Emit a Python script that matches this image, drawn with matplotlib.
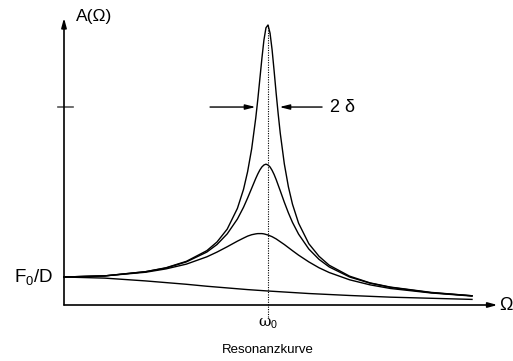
import matplotlib
matplotlib.use("Agg")
import matplotlib.pyplot as plt

plt.rcParams['font.family'] = ['Liberation Sans', 'DejaVu Sans']
plt.rcParams['mathtext.fontset'] = 'custom'
plt.rcParams['mathtext.rm'] = 'Liberation Sans'
plt.rcParams['mathtext.it'] = 'Liberation Sans'

# frequency ratio Omega/omega0
x = [0, 0.2, 0.4, 0.5, 0.6, 0.7, 0.75, 0.8, 0.85, 0.88, 0.9, 0.92, 0.94, 0.95,
     0.96, 0.97, 0.98, 0.99, 1.0, 1.01, 1.02, 1.03, 1.04, 1.05, 1.06, 1.08,
     1.1, 1.12, 1.15, 1.2, 1.25, 1.3, 1.4, 1.5, 1.6, 1.8, 2.0]

# amplitude in units of F0/D, one list per curve
a_high = [1.0, 1.04, 1.19, 1.33, 1.56, 1.94, 2.25, 2.71, 3.45, 4.13, 4.76, 5.58,
          6.68, 7.34, 8.07, 8.80, 9.46, 9.90, 10.0, 9.71, 9.12, 8.36, 7.56, 6.82,
          6.14, 5.04, 4.22, 3.60, 2.92, 2.19, 1.74, 1.42, 1.03, 0.79, 0.64, 0.45, 0.33]
a_mid = [1.0, 1.04, 1.19, 1.32, 1.54, 1.89, 2.16, 2.54, 3.07, 3.49, 3.82, 4.17,
         4.52, 4.68, 4.82, 4.93, 5.00, 5.03, 5.0, 4.93, 4.81, 4.66, 4.48, 4.28,
         4.08, 3.67, 3.29, 2.95, 2.53, 2.00, 1.63, 1.36, 1.0, 0.78, 0.63, 0.44, 0.33]
a_low = [1.0, 1.04, 1.17, 1.29, 1.46, 1.72, 1.89, 2.08, 2.28, 2.39, 2.46, 2.51,
         2.54, 2.55, 2.55, 2.55, 2.54, 2.52, 2.5, 2.47, 2.44, 2.40, 2.36, 2.31,
         2.26, 2.16, 2.05, 1.94, 1.78, 1.54, 1.33, 1.16, 0.90, 0.72, 0.59, 0.43, 0.32]
x_flat = [0, 0.2, 0.4, 0.5, 0.6, 0.7, 0.8, 0.9, 1.0, 1.2, 1.4, 1.6, 1.8, 2.0]
a_flat = [1.0, 0.96, 0.86, 0.80, 0.74, 0.67, 0.61, 0.55, 0.50, 0.41, 0.34, 0.28, 0.24, 0.20]

half_level = 7.07
width_left, width_right = 0.954, 1.046

fig = plt.figure(figsize=(5.13, 3.61), dpi=100)
ax = fig.add_axes([0, 0, 1, 1])
ax.set_xlim(-64 / 204, (513 - 64) / 204)
ax.set_ylim(-56 / 28, 305 / 28)
ax.axis('off')

for a in [a_high, a_mid, a_low]:
    ax.plot(x, a, color='black', lw=1.0)
ax.plot(x_flat, a_flat, color='black', lw=1.0)

# axes with arrows
arr = dict(arrowstyle='-|>,head_length=0.55,head_width=0.15', color='black', lw=1.2,
           shrinkA=0, shrinkB=0)
ax.annotate('', xy=(0, 10.25), xytext=(0, 0), arrowprops=arr)
ax.annotate('', xy=(2.125, 0), xytext=(0, 0), arrowprops=arr)

# resonance line and half-power tick
ax.plot([1.0, 1.0], [10.0, -0.45], color='black', lw=0.8, ls=(0, (1, 1.2)))
ax.plot([-0.03, 0.045], [half_level, half_level], color='#555555', lw=1.2)

arr2 = dict(arrowstyle='-|>,head_length=0.6,head_width=0.15', color='black', lw=1.0,
            shrinkA=0, shrinkB=0)
ax.annotate('', xy=(width_left - 0.015, half_level), xytext=(0.716, half_level), arrowprops=arr2)
ax.annotate('', xy=(width_right + 0.01, half_level), xytext=(1.265, half_level), arrowprops=arr2)

ax.text(1.305, half_level, '2 \u03b4', fontsize=13, va='center', ha='left')
ax.text(0.06, 10.3, 'A(\u03a9)', fontsize=12.5, va='center', ha='left')
ax.text(-0.055, 1.0, 'F$_0$/D', fontsize=13.5, va='center', ha='right')
ax.text(2.135, 0, '\u03a9', fontsize=13, va='center', ha='left')
ax.text(1.0, -0.68, '\u03c9$_0$', fontsize=11, va='center', ha='center',
        family=['DejaVu Serif'])
ax.text(1.0, -1.6, 'Resonanzkurve', fontsize=9.5, va='center', ha='center')

fig.savefig('out.png', dpi=100)
